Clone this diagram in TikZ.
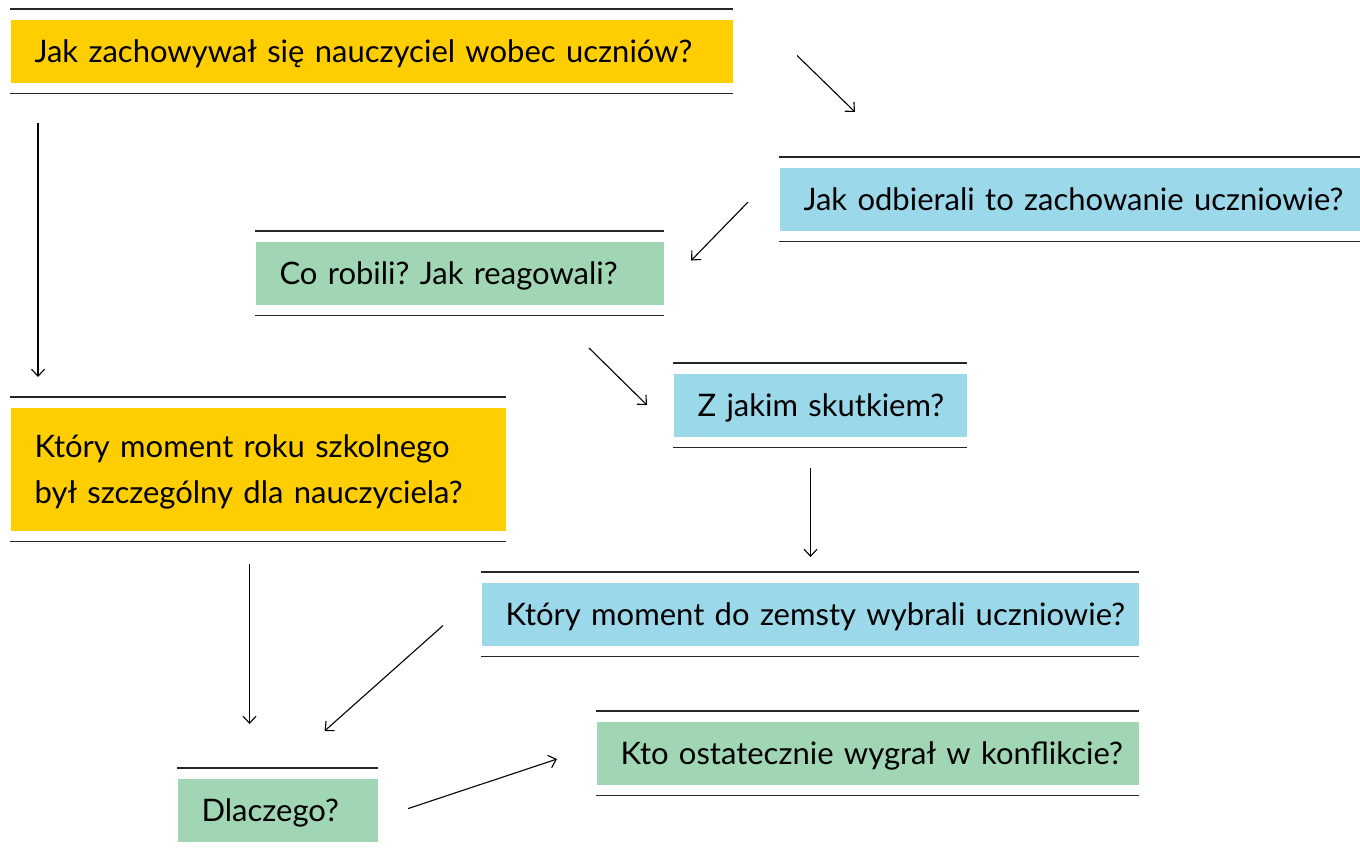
\documentclass[tikz,border=0pt]{standalone}
\usepackage{fontspec}
\setmainfont{Lato}
\usepackage{xcolor}
\usepackage{tikz}
\usetikzlibrary{arrows.meta,calc,positioning}
\definecolor{zolty}{HTML}{FFCE00}
\definecolor{niebieski}{HTML}{9BD8E9}
\definecolor{zielony}{HTML}{A0D6B4}
\tikzset{
	pole/.style={rectangle, anchor=north west, inner xsep=0pt, inner ysep=0pt,
		minimum height=63pt, text height=30pt, text depth=7pt,
		execute at begin node={\raggedright\leftskip=24pt\rightskip=-200pt plus 1fil\relax},
		font=\frenchspacing\fontsize{31}{46}\selectfont},
	kreska/.style={line width=1.1pt, color=black!85},
}
\newcommand{\pytanie}[6]
{
	\node[pole, fill=#2, #5] (#1) at (#3,#4) {#6};
	\draw[kreska]([yshift= 10pt]#1.north west)-- ([yshift= 10pt]#1.north east);
	\draw[kreska]([yshift=-10pt]#1.south west)-- ([yshift=-10pt]#1.south east);
}

\begin{document}
\begin{tikzpicture}[x=1pt,y=-1pt,>={Straight Barb[length=7pt,width=13pt]},line width=1.1pt]
\useasboundingbox (0,0) rectangle (1360,847);
\pytanie{q1}{zolty}{10}{19}{text width=722pt}{Jak zachowywał się nauczyciel wobec uczniów?}
\pytanie{q2}{niebieski}{779}{167}{text width=581pt}{Jak odbierali to zachowanie uczniowie?}
\pytanie{q3}{zielony}{255}{241}{text width=408pt}{Co robili? Jak reagowali?}
\pytanie{q4}{niebieski}{673}{373}{text width=293pt}{Z jakim skutkiem?}
\pytanie{q5}{zolty}{10}{407}{text width=495pt, text depth=53pt, minimum height=123pt}{Który moment roku szkolnego\\był szczególny dla nauczyciela?}
\pytanie{q6}{niebieski}{481}{582}{text width=657pt}{Który moment do zemsty wybrali uczniowie?}
\pytanie{q7}{zielony}{596}{721}{text width=542pt}{Kto ostatecznie wygrał w konflikcie?}
\pytanie{q8}{zielony}{177}{778}{text width=200pt}{Dlaczego?}

\draw[->]([shift={(64,4.5)}]q1.east)-- ([shift={(76,-55)}]q2.north west);
\draw[->]([shift={(28,40)}]q1.south west)-- ([shift={(28,-30)}]q5.north west);
\draw[->]([shift={(-31,3)}]q2.west)-- ([shift={(27,-12.5)}]q3.east);
\draw[->]([shift={(-75,43)}]q3.south east)-- ([shift={(-26,0)}]q4.west);
\draw[->]([shift={(-9.5,31)}]q4.south)-- ([shift={(0.5,-25)}]q6.north);
\draw[->]([shift={(-8.5,33)}]q5.south)-- ([shift={(-28,-54)}]q8.north);
\draw[->]([shift={(-38,11.5)}]q6.west)-- ([shift={(47,-47)}]q8.north);
\draw[->]([shift={(30,-1.5)}]q8.east)-- ([shift={(-39,6)}]q7.west);
\end{tikzpicture}
\end{document}
